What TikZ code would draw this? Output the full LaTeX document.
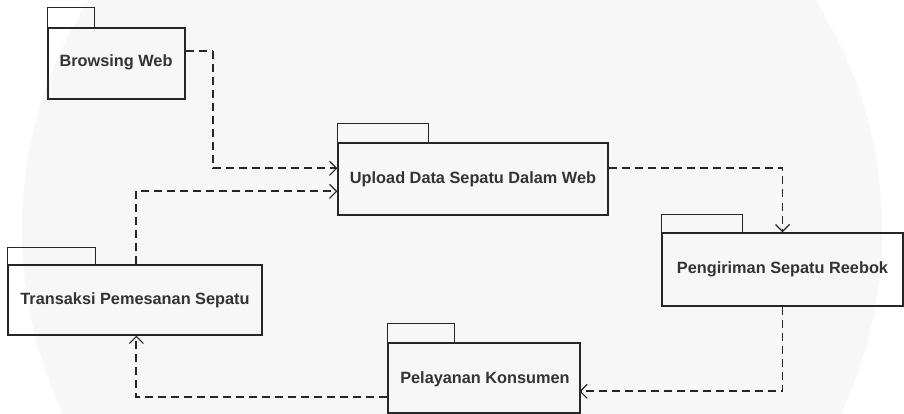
\documentclass[tikz,border=0pt]{standalone}
\usepackage{fontspec}
\setmainfont{Liberation Sans}
\usetikzlibrary{arrows.meta,calc}

\tikzset{
  pkgbody/.style={draw=black!85, line width=1.3pt, inner sep=0pt,
    font=\fontsize{16.3}{18}\selectfont\bfseries, text=black!80},
  pkglabel/.style={font=\fontsize{16.3}{18}\selectfont\bfseries, text=black!80},
  pkgtab/.style={draw=black!85, line width=1.3pt},
  depline/.style={draw=black!85, line width=1.8pt, dash pattern=on 8pt off 5pt},
  dep/.style={depline,
    -{Straight Barb[length=7pt,width=14pt,line width=1.2pt]}}
}

\begin{document}
\begin{tikzpicture}[x=1pt,y=-1pt]
  % page area
  \path[use as bounding box, fill=white] (0,0) rectangle (904,414);
  % faint background seal
  \fill[black!3] (452,230) circle (430);

  % package bodies
  \node[pkgbody, minimum width=137, minimum height=71] (bw) at (116.5,63.5) {};
  \node[pkglabel] (bwt) at (116,62) {Browsing Web};
  \node[pkgbody, minimum width=270, minimum height=72] (up) at (473,179) {Upload Data Sepatu Dalam Web};
  \node[pkgbody, minimum width=241, minimum height=73] (pg) at (782.5,269.5) {Pengiriman Sepatu Reebok};
  \node[pkgbody, minimum width=254, minimum height=70] (tr) at (135,300) {Transaksi Pemesanan Sepatu};
  \node[pkgbody, minimum width=192, minimum height=70] (pl) at (484,378) {};
  \node[pkglabel] (plt) at (485,379) {Pelayanan Konsumen};

  % package tabs
  \draw[pkgtab] (bw.north west) -- ++(0,-20) -- ++(47,0) -- ++(0,20);
  \draw[pkgtab] (up.north west) -- ++(0,-19) -- ++(91,0) -- ++(0,19);
  \draw[pkgtab] (pg.north west) -- ++(0,-18) -- ++(81,0) -- ++(0,18);
  \draw[pkgtab] (tr.north west) -- ++(0,-17) -- ++(88,0) -- ++(0,17);
  \draw[pkgtab] (pl.north west) -- ++(0,-19) -- ++(67,0) -- ++(0,19);

  % anchor points of the dependencies
  \coordinate (bwout) at ($(bw.north east)+(0,24)$);
  \coordinate (bwbend) at ($(bwout)+(27,0)$);
  \coordinate (upin1) at ($(up.north west)+(0,26)$);
  \coordinate (upin2) at ($(up.north west)+(0,49)$);
  \coordinate (trtop) at ($(tr.north west)+(129,0)$);
  \coordinate (trbot) at ($(tr.south west)+(129,0)$);
  \coordinate (upout) at ($(up.north east)+(0,26)$);
  \coordinate (plin) at ($(pl.north west)+(192,49)$);
  \coordinate (plout) at ($(pl.north west)+(0,55)$);

  % dependencies
  \draw[depline] (bwout) -- (bwbend);
  \draw[dep] (bwbend) |- (upin1);
  \draw[dep] (trtop) |- (upin2);
  \draw[dep] (upout) -| (pg.north);
  \draw[dep] (pg.south) |- (plin);
  \draw[dep] (plout) -| (trbot);
\end{tikzpicture}
\end{document}
